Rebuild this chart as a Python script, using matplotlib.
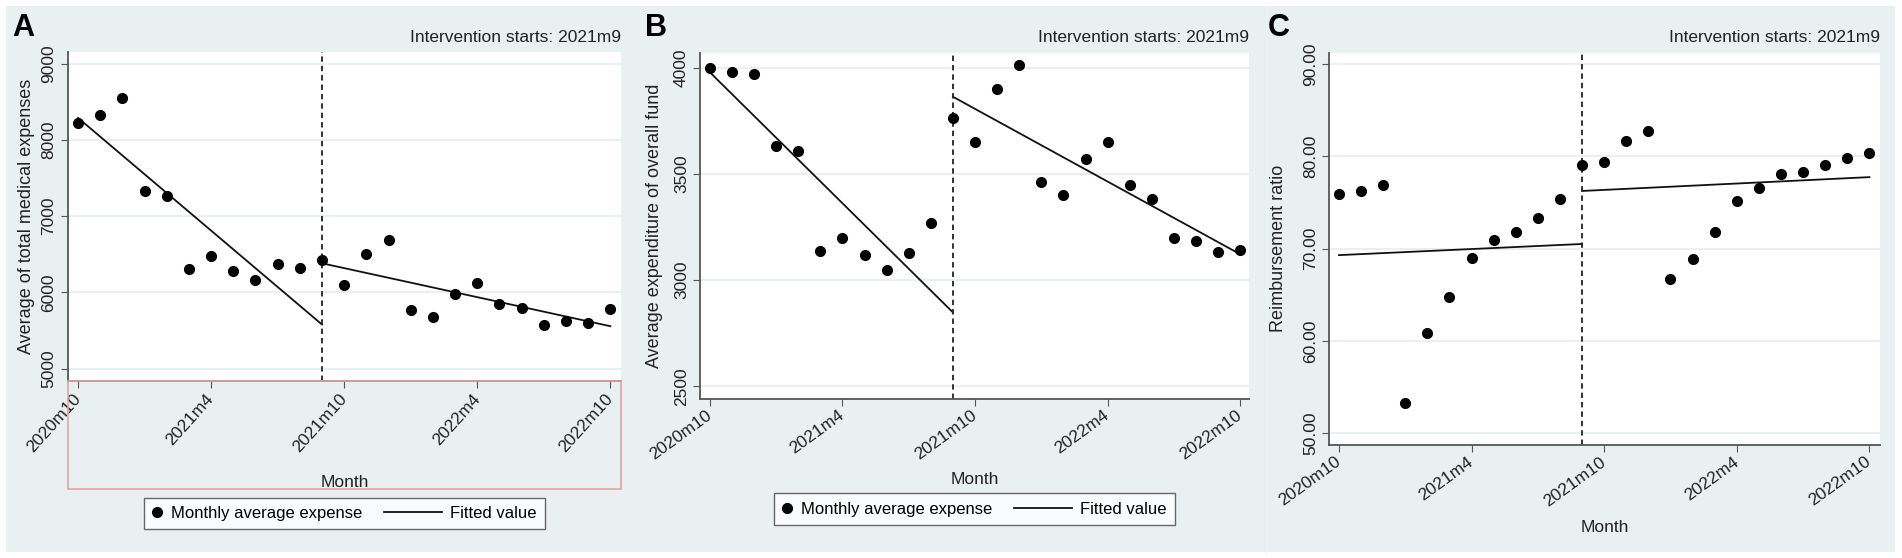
import matplotlib
matplotlib.use("Agg")
import matplotlib.pyplot as plt
from matplotlib.patches import Rectangle
from matplotlib.legend_handler import HandlerLine2D

plt.rcParams['font.family'] = ['Liberation Sans', 'DejaVu Sans']

# months 2020m10 .. 2022m10
months = list(range(25))
tick_pos = [0, 6, 12, 18, 24]
tick_labels = ["2020m10", "2021m4", "2021m10", "2022m4", "2022m10"]
intervention = 11  # 2021m9

# A: average of total medical expenses
exp_total = [8228, 8329, 8548, 7333, 7263, 6311, 6474, 6281, 6167, 6368, 6320,
             6421, 6101, 6509, 6693, 5768, 5671, 5974, 6127, 5846, 5798,
             5566, 5623, 5605, 5776]
fit_total_pre = [8289, 5579]
fit_total_post = [6382, 5557]

# B: average expenditure of overall fund
exp_fund = [3997, 3981, 3969, 3630, 3608, 3137, 3196, 3118, 3046, 3129, 3270,
            3765, 3648, 3900, 4013, 3460, 3400, 3571, 3651, 3447, 3380,
            3196, 3185, 3132, 3141]
fit_fund_pre = [3978, 2848]
fit_fund_post = [3863, 3122]

# C: reimbursement ratio
ratio = [75.94, 76.30, 76.87, 53.27, 60.83, 64.76, 68.98, 70.89, 71.79, 73.30, 75.36,
         79.04, 79.42, 81.66, 82.78, 66.66, 68.85, 71.82, 75.14, 76.61, 78.07,
         78.34, 79.11, 79.88, 80.39]
fit_ratio_pre = [69.30, 70.51]
fit_ratio_post = [76.26, 77.76]

W, H = 1902, 558
bg = '#e8f0f2'
grid_c = '#e4edef'
axis_c = '#555555'

fig = plt.figure(figsize=(W / 100, H / 100), dpi=100)
fig.patch.set_facecolor('white')


def px_axes(left, top, right, bottom):
    return fig.add_axes([left / W, 1 - bottom / H, (right - left) / W, (bottom - top) / H])


def fig_rect(x0, y0, x1, y1, **kw):
    r = Rectangle((x0 / W, 1 - y1 / H), (x1 - x0) / W, (y1 - y0) / H,
                  transform=fig.transFigure, **kw)
    fig.add_artist(r)


# legend line sample is longer than the handle box, drawn to the left of it
class WideLine(HandlerLine2D):
    def get_xdata(self, legend, xdescent, ydescent, width, height, fontsize):
        x1 = -xdescent + width
        x0 = x1 - 3.5 * fontsize
        return [x0, x1], [(x0 + x1) / 2]


# panel backgrounds
fig_rect(6, 6, 629, 552, facecolor=bg, edgecolor='none', zorder=0)
fig_rect(629, 6, 1266, 552, facecolor=bg, edgecolor='none', zorder=0)
fig_rect(1266, 6, 1895, 552, facecolor='#e9f0f2', edgecolor='none', zorder=0)
fig.add_artist(plt.Line2D([1266 / W, 1266 / W], [1 - 552 / H, 1 - 6 / H],
                          transform=fig.transFigure, color='#eef4f5', lw=1, zorder=0))

panels = [
    dict(box=(67.6, 52, 621.4, 380.7), y=exp_total, pre=fit_total_pre, post=fit_total_post,
         ylim=(4842, 9153), yticks=[5000, 6000, 7000, 8000, 9000], fmt="{:.0f}",
         ylabel="Average of total medical expenses", xlim=(-0.47, 24.5), rot=48,
         ylab_x=-0.059, xlab_y=-0.287, letter="A", letter_x=12, legend_y=-0.404),
    dict(box=(700, 53, 1249, 398.5), y=exp_fund, pre=fit_fund_pre, post=fit_fund_post,
         ylim=(2443, 4069), yticks=[2500, 3000, 3500, 4000], fmt="{:.0f}",
         ylabel="Average expenditure of overall fund", xlim=(-0.45, 24.4), rot=36,
         ylab_x=-0.067, xlab_y=-0.213, letter="B", letter_x=645, legend_y=-0.32),
    dict(box=(1329, 52.7, 1880, 445), y=ratio, pre=fit_ratio_pre, post=fit_ratio_post,
         ylim=(48.7, 91.26), yticks=[50, 60, 70, 80, 90], fmt="{:.2f}",
         ylabel="Reimbursement ratio", xlim=(-0.45, 24.48), rot=36,
         ylab_x=-0.076, xlab_y=-0.191, letter="C", letter_x=1268, legend_y=None),
]

for p in panels:
    left, top, right, bottom = p['box']
    ax = px_axes(left, top, right, bottom)
    ax.set_facecolor('white')
    ax.set_xlim(*p['xlim'])
    ax.set_ylim(*p['ylim'])
    ax.set_yticks(p['yticks'])
    ax.set_yticklabels([p['fmt'].format(v) for v in p['yticks']], rotation=90,
                       va='center', fontsize=12.5, color='#222222')
    ax.set_xticks(tick_pos)
    ax.set_xticklabels(tick_labels, rotation=p['rot'], ha='right', va='center',
                       rotation_mode='anchor', fontsize=12.5, color='#222222')
    ax.tick_params(axis='x', pad=6, length=5, color=axis_c)
    ax.tick_params(axis='y', length=5, color=axis_c, pad=3)
    ax.grid(axis='y', color=grid_c, lw=1.2)
    ax.set_axisbelow(True)
    for s in ['top', 'right']:
        ax.spines[s].set_visible(False)
    for s in ['left', 'bottom']:
        ax.spines[s].set_color(axis_c)
        ax.spines[s].set_linewidth(1.3)

    dots, = ax.plot(months, p['y'], 'o', ms=7, color='black', zorder=3,
                    label="Monthly average expense")
    fit, = ax.plot([months[0], intervention], p['pre'], color='#111111', lw=1.3,
                   label="Fitted value")
    ax.plot([intervention, months[-1]], p['post'], color='#111111', lw=1.3)
    ax.axvline(intervention, color='#222222', lw=1.3, ls=(0, (3, 2.2)), zorder=2)

    ax.set_ylabel(p['ylabel'], fontsize=13, color='#222222')
    ax.yaxis.set_label_coords(p['ylab_x'], 0.5)
    ax.set_xlabel("Month", fontsize=12.5, color='#222222')
    ax.xaxis.set_label_coords(0.5, p['xlab_y'])

    fig.text(right / W, 1 - 37 / H, "Intervention starts: 2021m9", ha='right',
             va='center', fontsize=12.5, color='#222222')
    fig.text(p['letter_x'] / W, 1 - 28 / H, p['letter'], ha='left', va='center',
             fontsize=22, fontweight='bold')

    if p['legend_y'] is not None:
        leg = ax.legend(handles=[dots, fit], loc='center', bbox_to_anchor=(0.5, p['legend_y']),
                        ncol=2, fontsize=12, frameon=True, fancybox=False,
                        handlelength=0.6, columnspacing=4.2, handletextpad=0.5,
                        borderpad=0.5, borderaxespad=0, numpoints=1,
                        handler_map={fit: WideLine()})
        leg.get_frame().set_edgecolor('#444444')
        leg.get_frame().set_linewidth(1.0)

# red outline around the x axis area of panel A
fig_rect(67.6, 380.7, 621.4, 488.6, facecolor='none', edgecolor='#e6a3a3', lw=1.2, zorder=5)

fig.savefig("out.png", dpi=100, facecolor=fig.get_facecolor())
